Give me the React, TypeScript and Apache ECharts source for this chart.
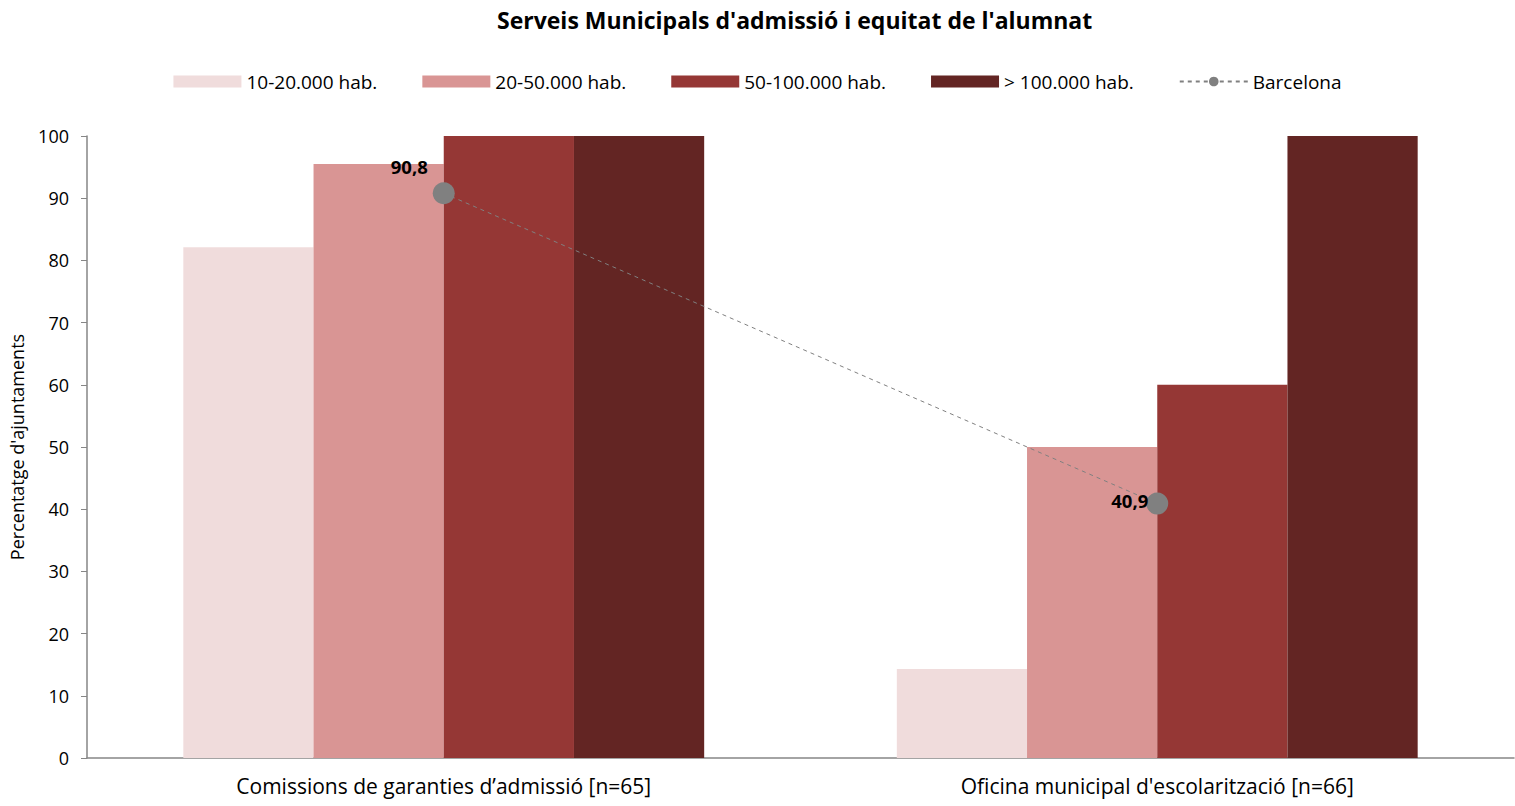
import React, { useEffect, useRef } from "react";
import * as echarts from "echarts";

const categories = ["Comissions de garanties d\u2019admissió [n=65]", "Oficina municipal d'escolarització [n=66]"];
const seriesNames = ["10-20.000 hab.", "20-50.000 hab.", "50-100.000 hab.", "> 100.000 hab."];
const s1 = [82.1, 14.3];
const s2 = [95.5, 50];
const s3 = [100, 60];
const s4 = [100, 100];
const barcelona = [90.8, 40.9];
const colors = ["#F0DCDC", "#D99594", "#953735", "#632523"];
const FONT = "'Open Sans', 'Noto Sans', sans-serif";

export default function App() {
  const ref = useRef<HTMLDivElement>(null);
  useEffect(() => {
    document.body.style.margin = "0";
    const chart = echarts.init(ref.current!, null, { renderer: "svg" });
    const barData = [s1, s2, s3, s4];
    chart.setOption({
      animation: false,
      textStyle: { fontFamily: FONT },
      title: {
        text: "Serveis Municipals d'admissió i equitat de l'alumnat",
        left: 497,
        top: 8,
        padding: 0,
        textStyle: { fontFamily: FONT, fontSize: 23, fontWeight: "bold", color: "#000" },
      },
      legend: {
        top: 67,
        left: "center",
        itemWidth: 68,
        itemHeight: 12,
        itemGap: 45,
        itemTextGap: 8,
        textStyle: { fontFamily: FONT, fontSize: 19, color: "#000" },
        data: [
          ...seriesNames.map((n) => ({ name: n, icon: "rect" })),
          { name: "Barcelona" },
        ],
      },
      grid: { left: 86, right: 1, top: 136, bottom: 48, containLabel: false },
      xAxis: {
        type: "category",
        data: categories,
        axisLine: { lineStyle: { color: "#868686", width: 1.5 } },
        axisTick: { show: false },
        axisLabel: { fontFamily: FONT, fontSize: 21, color: "#000", margin: 17 },
      },
      yAxis: {
        type: "value",
        min: 0,
        max: 100,
        interval: 10,
        name: "Percentatge d'ajuntaments",
        nameLocation: "middle",
        nameGap: 61,
        nameTextStyle: { fontFamily: FONT, fontSize: 18, color: "#000" },
        axisLine: { show: true, lineStyle: { color: "#868686", width: 1.5 } },
        axisTick: { show: true, length: 6, lineStyle: { color: "#868686" } },
        axisLabel: { fontFamily: FONT, fontSize: 18, color: "#000", margin: 18 },
        splitLine: { show: false },
      },
      series: [
        ...barData.map((d, i) => ({
          name: seriesNames[i],
          type: "bar",
          data: d,
          barGap: "0%",
          barCategoryGap: "27%",
          itemStyle: { color: colors[i] },
        })),
        {
          name: "Barcelona",
          type: "line",
          data: [
            {
              value: barcelona[0],
              label: { position: "left", distance: 5, offset: [0, -27] },
            },
            {
              value: barcelona[1],
              label: { position: "left", distance: -2, offset: [0, -3] },
            },
          ],
          symbol: "circle",
          symbolSize: 22,
          itemStyle: { color: "#808080" },
          lineStyle: { color: "#808080", width: 1, type: [4, 4] },
          label: {
            show: true,
            fontFamily: FONT,
            fontSize: 18.5,
            fontWeight: "bold",
            color: "#000",
            formatter: (p: any) => String(p.value).replace(".", ","),
          },
          z: 5,
        },
      ],
    });
    return () => chart.dispose();
  }, []);
  return <div ref={ref} style={{ width: 1515, height: 806 }} />;
}
